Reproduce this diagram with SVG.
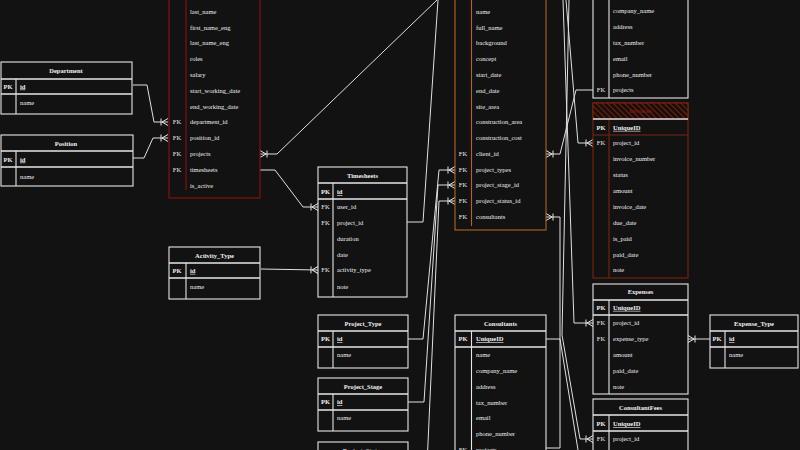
<svg xmlns="http://www.w3.org/2000/svg" width="800" height="450" viewBox="0 0 800 450">
<defs>
<style>
.bg{fill:#121212}
.b{fill:#121212;stroke:#e6e6e6;stroke-width:1.1}
.l{stroke:#e6e6e6;stroke-width:1.1;fill:none}
.d{stroke:#e6e6e6;stroke-width:1.6;fill:none}
.red{fill:#121212;stroke:#8e0f0f;stroke-width:1.1}
.redl{stroke:#8e0f0f;stroke-width:1.1;fill:none}
.org{fill:#121212;stroke:#b0641c;stroke-width:1.1}
.orgl{stroke:#b0641c;stroke-width:1.1;fill:none}
.inv{fill:#121212;stroke:#7a2410;stroke-width:1.1}
.invl{stroke:#7a2410;stroke-width:1.1;fill:none}
text{font-family:"Liberation Serif","Times New Roman",serif;font-size:6.5px;fill:#f0f0f0}
.h{font-weight:bold;text-anchor:middle}
.k{font-weight:bold}
.u{font-weight:bold;text-decoration:underline}
.c{text-anchor:middle}
.conn{stroke:#e0e0e0;stroke-width:1;fill:none}
</style>
<marker id="cf" viewBox="-10 -6 12 12" refX="0" refY="0" markerWidth="12" markerHeight="12" markerUnits="userSpaceOnUse" orient="auto-start-reverse">
<path d="M-7,-3.5V3.5M-6,0L0,-3.5M-6,0L0,3.5" stroke="#e6e6e6" stroke-width="1" fill="none"/>
</marker>
<pattern id="hatch" width="4" height="4" patternUnits="userSpaceOnUse" patternTransform="rotate(-45)">
<rect width="4" height="4" fill="#1a0d0a"/>
<line x1="0" y1="0" x2="0" y2="4" stroke="#8a2a12" stroke-width="1.6"/>
</pattern>
</defs>
<rect class="bg" x="0" y="0" width="800" height="450"/>

<g id="connectors">
<path class="conn" d="M133,85H147L154,122H168" marker-end="url(#cf)"/>
<path class="conn" d="M133,158H144L153,138H168" marker-end="url(#cf)"/>
<path class="conn" d="M260,154H277L437,0" marker-start="url(#cf)"/>
<path class="conn" d="M260,170H275L303,207H318" marker-end="url(#cf)"/>
<path class="conn" d="M261,269L318,270" marker-end="url(#cf)"/>
<path class="conn" d="M407,222H423L438,0"/>
<path class="conn" d="M408,339H423L439,170H455" marker-end="url(#cf)"/>
<path class="conn" d="M408,402H424L438,185H455" marker-end="url(#cf)"/>
<path class="conn" d="M408,465H427L439,201H455" marker-end="url(#cf)"/>
<path class="conn" d="M546,154H560L576,90H593" marker-start="url(#cf)"/>
<path class="conn" d="M546,217H560V448H546" marker-start="url(#cf)"/>
<path class="conn" d="M546,339H560L578,450"/>
<path class="conn" d="M566,0L578,143H593" marker-end="url(#cf)"/>
<path class="conn" d="M563,0L574,323H593" marker-end="url(#cf)"/>
<path class="conn" d="M569,0L562,335L580,439H593" marker-end="url(#cf)"/>
<path class="conn" d="M710,339H688" marker-end="url(#cf)"/>
</g>

<g id="Department">
<rect class="b" x="1" y="62" width="131" height="52"/>
<path class="d" d="M1,79H132M1,94H132"/>
<path class="l" d="M16,79V114"/>
<text class="h" x="66" y="72.5">Department</text>
<text class="k c" x="8" y="88.5">PK</text>
<text class="u" x="20" y="88.5">id</text>
<text x="20" y="104.5">name</text>
</g>

<g id="Position">
<rect class="b" x="1" y="135" width="132" height="51"/>
<path class="d" d="M1,151H133M1,167H133"/>
<path class="l" d="M16,151V186"/>
<text class="h" x="66" y="145.5">Position</text>
<text class="k c" x="8" y="161.5">PK</text>
<text class="u" x="20" y="161.5">id</text>
<text x="20" y="178.5">name</text>
</g>

<g id="Users">
<rect class="red" x="169" y="-10" width="91" height="208"/>
<path class="redl" d="M186,-10V190"/>
<text x="190" y="14.3">last_name</text>
<text x="190" y="30.3">first_name_eng</text>
<text x="190" y="45.3">last_name_eng</text>
<text x="190" y="61.3">roles</text>
<text x="190" y="77.3">salary</text>
<text x="190" y="93.3">start_working_date</text>
<text x="190" y="109.3">end_working_date</text>
<text class="c" x="177" y="124.3">FK</text>
<text x="190" y="124.3">department_id</text>
<text class="c" x="177" y="140.3">FK</text>
<text x="190" y="140.3">position_id</text>
<text class="c" x="177" y="156.3">FK</text>
<text x="190" y="156.3">projects</text>
<text class="c" x="177" y="172.3">FK</text>
<text x="190" y="172.3">timesheets</text>
<text x="190" y="188.3">is_active</text>
</g>

<g id="Timesheets">
<rect class="b" x="318" y="167" width="89" height="130"/>
<path class="d" d="M318,183H407M318,199H407"/>
<path class="l" d="M333,183V297"/>
<text class="h" x="362.5" y="177.5">Timesheets</text>
<text class="k c" x="325.5" y="194.3">PK</text>
<text class="u" x="337" y="194.3">id</text>
<text class="c" x="325.5" y="209.3">FK</text>
<text x="337" y="209.3">user_id</text>
<text class="c" x="325.5" y="225.3">FK</text>
<text x="337" y="225.3">project_id</text>
<text x="337" y="241.3">duration</text>
<text x="337" y="257.3">date</text>
<text class="c" x="325.5" y="272.3">FK</text>
<text x="337" y="272.3">activity_type</text>
<text x="337" y="289.3">note</text>
</g>

<g id="Activity_Type">
<rect class="b" x="169" y="247" width="91" height="52"/>
<path class="d" d="M169,263H260M169,278H260"/>
<path class="l" d="M186,263V299"/>
<text class="h" x="214.5" y="257.5">Activity_Type</text>
<text class="k c" x="177" y="272.8">PK</text>
<text class="u" x="190" y="272.8">id</text>
<text x="190" y="289.3">name</text>
</g>

<g id="Project_Type">
<rect class="b" x="318" y="315" width="90" height="53"/>
<path class="d" d="M318,331H408M318,347H408"/>
<path class="l" d="M333,331V368"/>
<text class="h" x="363" y="325.5">Project_Type</text>
<text class="k c" x="325.5" y="341.3">PK</text>
<text class="u" x="337" y="341.3">id</text>
<text x="337" y="357.3">name</text>
</g>

<g id="Project_Stage">
<rect class="b" x="318" y="378" width="90" height="53"/>
<path class="d" d="M318,394H408M318,410H408"/>
<path class="l" d="M333,394V431"/>
<text class="h" x="363" y="389.3">Project_Stage</text>
<text class="k c" x="325.5" y="404.3">PK</text>
<text class="u" x="337" y="404.3">id</text>
<text x="337" y="420.3">name</text>
</g>

<g id="Project_Status">
<rect class="b" x="318" y="442" width="90" height="53"/>
<text class="h" x="363" y="452.8">Project_Status</text>
</g>

<g id="Projects">
<rect class="org" x="455" y="-10" width="91" height="240"/>
<path class="orgl" d="M471.5,-10V226"/>
<text x="476" y="14.3">name</text>
<text x="476" y="30.3">full_name</text>
<text x="476" y="45.3">background</text>
<text x="476" y="61.3">concept</text>
<text x="476" y="77.3">start_date</text>
<text x="476" y="93.3">end_date</text>
<text x="476" y="109.3">site_area</text>
<text x="476" y="124.3">construction_area</text>
<text x="476" y="140.3">construction_cost</text>
<text class="c" x="463" y="156.3">FK</text>
<text x="476" y="156.3">client_id</text>
<text class="c" x="463" y="172.3">FK</text>
<text x="476" y="172.3">project_types</text>
<text class="c" x="463" y="187.3">FK</text>
<text x="476" y="187.3">project_stage_id</text>
<text class="c" x="463" y="203.3">FK</text>
<text x="476" y="203.3">project_status_id</text>
<text class="c" x="463" y="219.3">FK</text>
<text x="476" y="219.3">consultants</text>
</g>

<g id="Consultants">
<rect class="b" x="455" y="315" width="91" height="150"/>
<path class="d" d="M455,331H546M455,347H546"/>
<path class="l" d="M471.5,331V465"/>
<text class="h" x="500.5" y="325.5">Consultants</text>
<text class="k c" x="463" y="341.3">PK</text>
<text class="u" x="476" y="341.3">UniqueID</text>
<text x="476" y="357.3">name</text>
<text x="476" y="373.3">company_name</text>
<text x="476" y="389.3">address</text>
<text x="476" y="405.3">tax_number</text>
<text x="476" y="420.3">email</text>
<text x="476" y="436.3">phone_number</text>
<text class="c" x="463" y="451.8">FK</text>
<text x="476" y="451.8">projects</text>
</g>

<g id="Clients">
<rect class="b" x="593" y="-10" width="95" height="108"/>
<path class="l" d="M609,-10V98"/>
<text x="613" y="13.3">company_name</text>
<text x="613" y="29.3">address</text>
<text x="613" y="45.3">tax_number</text>
<text x="613" y="61.3">email</text>
<text x="613" y="77.3">phone_number</text>
<text class="c" x="601" y="92.3">FK</text>
<text x="613" y="92.3">projects</text>
</g>

<g id="Invoices">
<rect class="inv" x="593" y="103" width="95" height="175"/>
<rect x="593" y="103" width="95" height="16" fill="url(#hatch)" stroke="#7a2410" stroke-width="1.1"/>
<path class="invl" d="M593,135H688M609,119V278"/>
<path d="M593,119H688" stroke="#d8d8d8" stroke-width="1.3"/>
<text class="h" x="640.5" y="113.3" style="fill:#7a1c0c">Invoices</text>
<text class="k c" x="601" y="129.8">PK</text>
<text class="u" x="613" y="129.8">UniqueID</text>
<text class="c" x="601" y="145.3">FK</text>
<text x="613" y="145.3">project_id</text>
<text x="613" y="161.3">invoice_number</text>
<text x="613" y="177.3">status</text>
<text x="613" y="193.3">amount</text>
<text x="613" y="209.3">invoice_date</text>
<text x="613" y="225.3">due_date</text>
<text x="613" y="241.3">is_paid</text>
<text x="613" y="257.3">paid_date</text>
<text x="613" y="272.3">note</text>
</g>

<g id="Expenses">
<rect class="b" x="593" y="284" width="95" height="110"/>
<path class="d" d="M593,300H688M593,315H688"/>
<path class="l" d="M609,300V394"/>
<text class="h" x="640.5" y="294.3">Expenses</text>
<text class="k c" x="601" y="309.8">PK</text>
<text class="u" x="613" y="309.8">UniqueID</text>
<text class="c" x="601" y="325.3">FK</text>
<text x="613" y="325.3">project_id</text>
<text class="c" x="601" y="341.3">FK</text>
<text x="613" y="341.3">expense_type</text>
<text x="613" y="357.3">amount</text>
<text x="613" y="373.3">paid_date</text>
<text x="613" y="389.3">note</text>
</g>

<g id="ConsultantFees">
<rect class="b" x="593" y="399" width="95" height="70"/>
<path class="d" d="M593,415H688M593,431H688"/>
<path class="l" d="M609,415V469"/>
<text class="h" x="640.5" y="410.3">ConsultantFees</text>
<text class="k c" x="601" y="426.3">PK</text>
<text class="u" x="613" y="426.3">UniqueID</text>
<text class="c" x="601" y="441.3">FK</text>
<text x="613" y="441.3">project_id</text>
</g>

<g id="Expense_Type">
<rect class="b" x="710" y="315" width="88" height="53"/>
<path class="d" d="M710,331H798M710,347H798"/>
<path class="l" d="M725,331V368"/>
<text class="h" x="754" y="325.5">Expense_Type</text>
<text class="k c" x="717" y="341.3">PK</text>
<text class="u" x="729" y="341.3">id</text>
<text x="729" y="357.3">name</text>
</g>
</svg>
